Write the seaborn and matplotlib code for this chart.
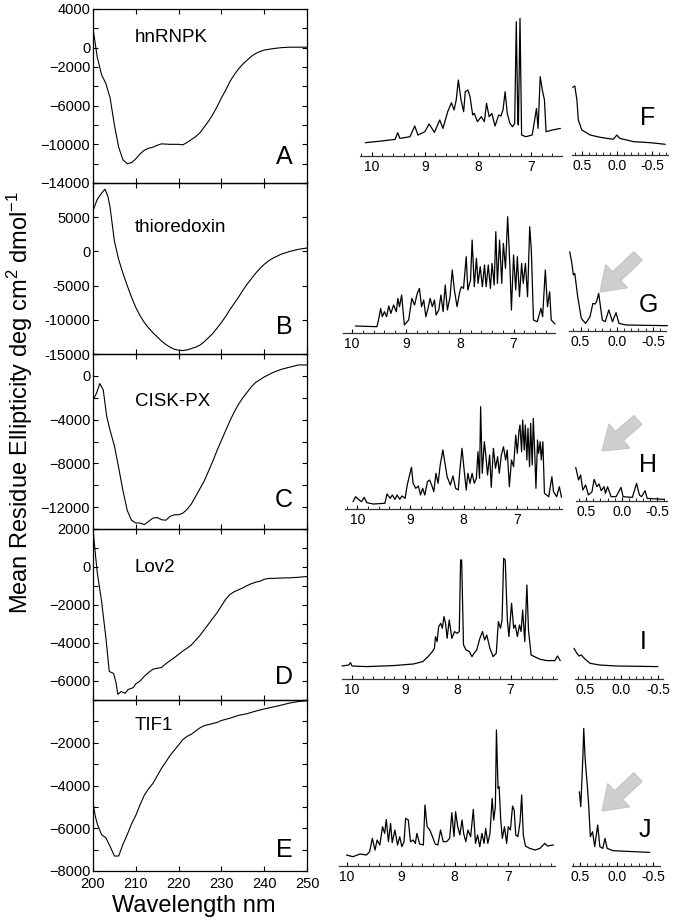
import numpy as np
import matplotlib
matplotlib.use("Agg")
import matplotlib.pyplot as plt
import seaborn as sns
from matplotlib.patches import FancyArrow
from matplotlib.ticker import MultipleLocator
from matplotlib.transforms import IdentityTransform

sns.set_style("ticks")
plt.rcParams['font.family'] = ['Liberation Sans', 'DejaVu Sans']
plt.rcParams['mathtext.default'] = 'regular'
plt.rcParams['text.color'] = 'k'
plt.rcParams['axes.labelcolor'] = 'k'
plt.rcParams['xtick.color'] = 'k'
plt.rcParams['ytick.color'] = 'k'

W, H = 682, 923

# ---------------- CD spectra (wavelength nm, mean residue ellipticity) ----------------
cd_hnrnpk = [(200, 2000), (201, -1000), (202, -2800), (203, -3700), (204, -5200), (205, -8000),
             (206, -10300), (207, -11600), (208, -12000), (209, -11900), (210, -11500), (211, -11000),
             (212, -10600), (213, -10400), (214, -10300), (215, -10100), (216, -9950), (218, -10000),
             (220, -10000), (221, -10050), (222, -9800), (223, -9500), (224, -9200), (225, -8800),
             (226, -8200), (227, -7600), (228, -6900), (229, -6100), (230, -5200), (231, -4400),
             (232, -3500), (233, -2800), (234, -2200), (235, -1700), (236, -1300), (237, -900),
             (238, -600), (239, -400), (240, -250), (242, -100), (244, 0), (246, 50), (248, 50), (250, 50)]

cd_thioredoxin = [(200, 6000), (201, 7600), (202, 8500), (202.8, 9100), (203.5, 8000), (204, 6400),
                  (205, 1500), (206, -1200), (207, -3200), (208, -5000), (209, -6700), (210, -8200),
                  (211, -9400), (212, -10400), (213, -11200), (214, -11900), (215, -12500), (216, -13100),
                  (217, -13600), (218, -14000), (219, -14300), (220, -14450), (221, -14500), (222, -14400),
                  (223, -14200), (224, -14000), (225, -13700), (226, -13200), (227, -12600), (228, -12000),
                  (229, -11200), (230, -10400), (231, -9500), (232, -8500), (233, -7600), (234, -6700),
                  (235, -5700), (236, -4800), (237, -4000), (238, -3200), (239, -2500), (240, -1900),
                  (241, -1400), (242, -1000), (244, -400), (246, 0), (248, 300), (250, 500)]

cd_cisk = [(200, -2200), (200.8, -1600), (201.6, -700), (202.4, -1300), (203.2, -3700), (204, -5000),
           (205, -6400), (206, -8400), (207, -10500), (208, -12300), (209, -13200), (210, -13450),
           (211, -13450), (212, -13600), (213, -13300), (214, -13000), (215, -12950), (216, -13150),
           (217, -13200), (218, -12850), (219, -12700), (220, -12700), (221, -12550), (222, -12200),
           (223, -11700), (224, -11000), (225, -10300), (226, -9600), (227, -8700), (228, -7800),
           (229, -6800), (230, -5900), (231, -5000), (232, -4100), (233, -3300), (234, -2600),
           (235, -2000), (236, -1500), (237, -1000), (238, -600), (240, -100), (242, 300),
           (244, 600), (246, 800), (248, 1000), (250, 1000)]

cd_lov2 = [(200, 2000), (200.5, 800), (201, -300), (202, -1800), (203, -3700), (203.8, -5500),
           (204.8, -5600), (205.4, -6100), (205.8, -6700), (206.6, -6550), (207.5, -6650), (208.2, -6450),
           (209.4, -6350), (210, -6150), (211, -6000), (212, -5750), (213, -5550), (214, -5380),
           (215, -5330), (216, -5290), (217, -5100), (218, -4930), (219, -4770), (220, -4600),
           (221, -4420), (222, -4270), (223, -4100), (224, -3850), (225, -3600), (226, -3300),
           (227, -3000), (228, -2700), (229, -2400), (230, -2050), (231, -1700), (232, -1450),
           (233, -1300), (234, -1200), (235, -1100), (236, -980), (237, -880), (238, -800),
           (239, -750), (240, -650), (241, -600), (242, -600), (244, -580), (246, -570),
           (248, -540), (250, -500)]

cd_tif1 = [(200, -4800), (200.5, -5400), (201, -5800), (202, -6300), (203, -6450), (204, -6850),
           (205, -7300), (206, -7300), (207, -6750), (208, -6300), (209, -5800), (210, -5400),
           (211, -4900), (212, -4450), (213, -4150), (214, -3900), (215, -3550), (216, -3200),
           (217, -2900), (218, -2600), (219, -2350), (220, -2100), (221, -1850), (222, -1700),
           (223, -1600), (224, -1450), (225, -1300), (226, -1200), (227, -1150), (228, -1100),
           (229, -1050), (230, -960), (232, -850), (234, -720), (236, -640), (238, -520),
           (240, -420), (242, -330), (244, -240), (246, -140), (248, -70), (250, -30)]

cd_names = ["hnRNPK", "thioredoxin", "CISK-PX", "Lov2", "TIF1"]
cd_letters = ["A", "B", "C", "D", "E"]
cd_ylims = [(-14000, 4000), (-15000, 10000), (-14000, 2000), (-7000, 2000), (-8000, 0)]
cd_tick_step = [2000, 5000, 2000, 1000, 1000]
cd_labelled = [[4000, 0, -2000, -6000, -10000, -14000],
               [5000, 0, -5000, -10000, -15000],
               [0, -4000, -8000, -12000],
               [2000, 0, -2000, -4000, -6000],
               [-2000, -4000, -6000, -8000]]
cd_minus = ["\u2212", "-", "\u2212", "\u2212", "\u2212"]
wl_ticks = [200, 210, 220, 230, 240, 250]

# ---------------- 1H NMR spectra (ppm, intensity a.u.) ----------------
f_main = [(10.12, 13), (9.85, 14.5), (9.56, 16.3), (9.51, 23), (9.47, 17.3), (9.28, 19), (9.19, 29.7),
          (9.13, 20.7), (9.00, 24), (8.92, 31.7), (8.82, 23.3), (8.72, 35.7), (8.66, 27.3), (8.57, 44),
          (8.50, 53), (8.45, 45.7), (8.41, 55.7), (8.37, 75.7), (8.32, 55.7), (8.27, 44), (8.24, 64),
          (8.19, 65.7), (8.15, 59), (8.10, 40.7), (8.07, 42.3), (8.01, 34), (7.94, 39), (7.88, 34),
          (7.84, 52.3), (7.79, 39), (7.74, 42.3), (7.68, 29.7), (7.61, 40.7), (7.57, 39.7), (7.53, 45.7),
          (7.49, 64), (7.45, 42.3), (7.40, 32.3), (7.35, 29), (7.31, 32.3), (7.28, 134), (7.25, 32.3),
          (7.24, 30.7), (7.21, 137.3), (7.18, 20.7), (7.10, 19), (6.98, 20.7), (6.90, 47.3), (6.87, 27.3),
          (6.83, 79), (6.79, 65.7), (6.75, 55.7), (6.72, 24), (6.60, 25.7), (6.45, 27.3)]
f_up = [(0.63, 67.7), (0.60, 69), (0.57, 55), (0.55, 35), (0.50, 25), (0.38, 20), (0.24, 17.7),
        (0.05, 15.7), (0.00, 20), (-0.04, 16.7), (-0.24, 13.3), (-0.48, 12.3), (-0.69, 10.7)]

g_main = [(9.94, 6.7), (9.54, 6), (9.51, 12.7), (9.47, 24.3), (9.44, 16), (9.40, 21), (9.36, 16),
          (9.32, 26.7), (9.28, 19.3), (9.23, 27.7), (9.18, 21), (9.15, 34.3), (9.12, 26), (9.08, 37.7),
          (9.03, 7.7), (8.95, 12.7), (8.89, 34.3), (8.84, 27.7), (8.79, 39.3), (8.75, 44.3), (8.71, 26),
          (8.67, 32.7), (8.63, 16), (8.59, 24.3), (8.55, 34.3), (8.51, 26), (8.47, 32.7), (8.44, 17.7),
          (8.39, 22.7), (8.35, 37.7), (8.31, 21), (8.27, 47.7), (8.23, 22.7), (8.18, 36), (8.14, 62.7),
          (8.10, 42.7), (8.05, 26), (8.00, 41), (7.97, 46), (7.93, 44.3), (7.88, 76), (7.85, 42.7),
          (7.80, 52.7), (7.77, 92.7), (7.73, 46), (7.69, 74.3), (7.66, 49.3), (7.62, 66), (7.58, 46),
          (7.54, 67.7), (7.51, 46), (7.47, 67.7), (7.43, 44.3), (7.40, 69.3), (7.36, 47.7), (7.33, 101),
          (7.30, 49.3), (7.26, 92.7), (7.22, 49.3), (7.19, 89.3), (7.15, 64.3), (7.11, 116), (7.07, 69.3),
          (7.04, 22.7), (7.00, 77.7), (6.96, 42.7), (6.93, 76), (6.89, 36), (6.85, 69.3), (6.82, 49.3),
          (6.78, 69.3), (6.74, 36), (6.70, 106), (6.67, 82.7), (6.63, 12.7), (6.56, 11), (6.49, 24.3),
          (6.46, 16), (6.41, 62.7), (6.37, 26), (6.33, 41), (6.30, 12.7), (6.23, 8.7)]
g_up = [(0.65, 79), (0.62, 67.3), (0.60, 55.7), (0.58, 57.3), (0.54, 34), (0.49, 12.3), (0.43, 7.3),
        (0.37, 14), (0.33, 27.3), (0.30, 26.7), (0.28, 29), (0.25, 37.3), (0.20, 10.7), (0.16, 9),
        (0.11, 20.7), (0.06, 9), (0.01, 18), (-0.03, 7.3), (-0.13, 5.7), (-0.70, 5)]

h_main = [(10.08, 7.3), (10.03, 12.3), (9.98, 9.7), (9.92, 7.3), (9.87, 11.7), (9.82, 6.3), (9.70, 5),
          (9.48, 5.7), (9.44, 15), (9.38, 10.7), (9.34, 14), (9.29, 9.7), (9.25, 14), (9.20, 9.7),
          (9.16, 13), (9.10, 10.7), (9.06, 24), (9.02, 33), (8.98, 41.7), (8.95, 25.7), (8.90, 20.7),
          (8.85, 23), (8.81, 14), (8.77, 20.7), (8.73, 14), (8.68, 27.3), (8.64, 29), (8.60, 24),
          (8.56, 17.3), (8.52, 35.7), (8.48, 25.7), (8.44, 44), (8.39, 59), (8.35, 45.7), (8.31, 32.3),
          (8.25, 24), (8.20, 33), (8.15, 20.7), (8.10, 19), (8.07, 39), (8.03, 60.7), (7.99, 39),
          (7.95, 19), (7.92, 35.7), (7.88, 25.7), (7.84, 35.7), (7.80, 25.7), (7.76, 30.7), (7.73, 57.3),
          (7.70, 30.7), (7.68, 102.3), (7.65, 35.7), (7.61, 67.3), (7.58, 52.3), (7.55, 34), (7.51, 54),
          (7.48, 21.7), (7.44, 60.7), (7.40, 40.7), (7.36, 52.3), (7.33, 35.7), (7.29, 54), (7.25, 62.3),
          (7.21, 49), (7.18, 59), (7.14, 22.3), (7.10, 49), (7.06, 42.3), (7.02, 74), (6.99, 55.7),
          (6.96, 77.3), (6.94, 84), (6.91, 57.3), (6.89, 89), (6.86, 59), (6.84, 84), (6.81, 49),
          (6.79, 80.7), (6.76, 42.3), (6.74, 85.7), (6.71, 44), (6.69, 90.7), (6.66, 52.3), (6.64, 20.7),
          (6.61, 69), (6.59, 55.7), (6.56, 67.3), (6.54, 49), (6.51, 67.3), (6.48, 15.7), (6.40, 12.3),
          (6.34, 32.3), (6.31, 17.3), (6.25, 12.3), (6.20, 22.3), (6.16, 11.7)]
h_up = [(0.65, 33.3), (0.61, 20.7), (0.58, 25.7), (0.55, 10.7), (0.51, 15.7), (0.47, 5.7), (0.42, 9),
        (0.39, 21.3), (0.35, 14), (0.32, 16.7), (0.29, 10), (0.25, 14), (0.23, 7.3), (0.20, 14),
        (0.15, 4), (0.08, 4), (0.01, 13.3), (-0.02, 4), (-0.15, 3.3), (-0.21, 17.3), (-0.25, 5.7),
        (-0.28, 4), (-0.33, 10), (-0.36, 2.3), (-0.60, 1.3)]

i_main = [(10.19, 13.3), (10.06, 14.3), (10.03, 16.7), (10.00, 13.3), (9.72, 12.7), (9.22, 13.7),
          (8.84, 15.3), (8.66, 17.7), (8.56, 22.7), (8.48, 27.7), (8.44, 31), (8.42, 42.7), (8.39, 37.7),
          (8.36, 52.7), (8.32, 56), (8.29, 51), (8.26, 62.7), (8.23, 56), (8.20, 41), (8.16, 59.3),
          (8.11, 41), (8.06, 47.7), (8.01, 46), (7.97, 47.7), (7.945, 119.3), (7.925, 119.3), (7.89, 34.3),
          (7.84, 29.3), (7.78, 27.7), (7.73, 22.7), (7.69, 26), (7.64, 29.3), (7.58, 41), (7.53, 47.7),
          (7.49, 39.3), (7.45, 44.3), (7.39, 31), (7.33, 22.7), (7.27, 26), (7.23, 57.7), (7.19, 51),
          (7.16, 59.3), (7.13, 121), (7.10, 119.3), (7.06, 59.3), (7.03, 42.7), (6.98, 76), (6.94, 51),
          (6.91, 54.3), (6.87, 42.7), (6.83, 54.3), (6.80, 47.7), (6.77, 69.3), (6.73, 37.7), (6.69, 94.3),
          (6.66, 49.3), (6.61, 24.3), (6.52, 22), (6.44, 20), (6.31, 18.7), (6.16, 18.7), (6.11, 23.3),
          (6.06, 18.7)]
i_up = [(0.65, 31), (0.61, 26), (0.58, 23.3), (0.55, 24.3), (0.51, 21), (0.43, 16), (0.30, 14.3),
        (0.07, 13.3), (-0.50, 12.7)]

j_main = [(10.01, 10.7), (9.89, 9), (9.76, 11.7), (9.64, 10.7), (9.58, 14), (9.53, 27.3), (9.48, 15.7),
          (9.44, 25.7), (9.39, 20.7), (9.34, 39), (9.30, 32.3), (9.27, 46.3), (9.23, 24), (9.19, 42.3),
          (9.16, 23), (9.11, 35.7), (9.06, 20.7), (9.02, 29), (8.98, 19), (8.94, 24), (8.91, 47.3),
          (8.86, 45.7), (8.82, 24), (8.77, 25.7), (8.73, 22.3), (8.70, 32.3), (8.65, 21.7), (8.58, 20.7),
          (8.55, 60.7), (8.51, 39), (8.46, 35.7), (8.41, 29), (8.36, 21.7), (8.31, 20.7), (8.26, 35.7),
          (8.21, 24), (8.15, 24), (8.09, 27.3), (8.05, 53), (8.01, 29), (7.98, 54), (7.94, 39),
          (7.90, 30.7), (7.86, 45.7), (7.83, 32.3), (7.79, 24), (7.75, 35.7), (7.70, 29), (7.65, 56.3),
          (7.61, 22.3), (7.57, 30.7), (7.53, 19), (7.49, 32.3), (7.45, 22.3), (7.42, 37.3), (7.38, 22.3),
          (7.34, 32.3), (7.30, 67.3), (7.27, 45.7), (7.24, 59), (7.22, 135.7), (7.19, 77.3), (7.17, 79),
          (7.14, 45.7), (7.11, 27.3), (7.07, 39), (7.03, 22.3), (7.00, 39), (6.96, 35.7), (6.92, 59.7),
          (6.89, 55.7), (6.86, 30.7), (6.82, 29), (6.78, 44), (6.75, 70.7), (6.72, 30.7), (6.68, 19.7),
          (6.60, 17.3), (6.50, 15.7), (6.41, 17.3), (6.32, 22.3), (6.27, 19.7), (6.16, 20.7)]
j_up = [(0.51, 74), (0.49, 59), (0.46, 112.3), (0.45, 137.3), (0.43, 105.7), (0.40, 79), (0.38, 57.3),
        (0.36, 29), (0.33, 34), (0.30, 19), (0.26, 40.7), (0.23, 19), (0.19, 17.3), (0.16, 27.3),
        (0.13, 17.3), (0.05, 15), (-0.45, 13.3)]

nmr_letters = ["F", "G", "H", "I", "J"]
main_ticks = [10, 9, 8, 7]
up_ticks = [0.5, 0.0, -0.5]
up_ticklabels = ["0.5", "0.0", "-0.5"]

# ---------------- layout (pixels) ----------------
cd_bounds = [(9, 183), (183, 354), (354, 529), (529, 700), (700, 871)]
cd_name_y = [38, 227, 402, 568, 726]
cd_letter_y = [157, 327, 500, 677, 850]
# (x0, x1, axis line y, xlim) for main and upfield segment
nmr_main = [(360, 562, 155.7, (10.22, 6.42)), (343, 555, 332.7, (10.17, 6.23)),
            (345, 562, 509, (10.23, 6.15)), (342, 557, 679.3, (10.19, 6.12)),
            (339, 555, 865.7, (10.15, 6.13))]
nmr_up = [(572, 668, 155, (0.64, -0.73)), (569, 666, 330.7, (0.66, -0.68)),
          (576, 667, 500.7, (0.646, -0.64)), (575, 663, 679.3, (0.636, -0.57)),
          (572, 660, 865.7, (0.61, -0.59))]
nmr_letter_xy = [(648, 118), (648, 305), (648, 465), (643, 642), (645, 830)]
arrow_xy = [((638, 256), (600, 292)), ((638, 420), (602, 451)), ((638, 777), (602, 811))]

fig = plt.figure(figsize=(W / 100, H / 100), dpi=100)


def px_axes(x0, y0, x1, y1):
    return fig.add_axes([x0 / W, 1 - y1 / H, (x1 - x0) / W, (y1 - y0) / H])


cd_data = [cd_hnrnpk, cd_thioredoxin, cd_cisk, cd_lov2, cd_tif1]
for i, curve in enumerate(cd_data):
    top, bot = cd_bounds[i]
    ax = px_axes(93, top, 307, bot)
    ax.patch.set_visible(False)
    wl, val = np.array(curve).T
    sns.lineplot(x=wl, y=val, ax=ax, color='k', lw=0.8, sort=False, estimator=None)
    lo, hi = cd_ylims[i]
    ax.set_xlim(200, 250)
    ax.set_ylim(lo, hi)
    ticks = np.arange(lo, hi + 1, cd_tick_step[i])
    ax.set_yticks(ticks)
    ax.set_yticklabels([(f"{t:d}".replace("-", cd_minus[i]) if t in cd_labelled[i] else "")
                        for t in ticks.astype(int)])
    ax.set_xticks(wl_ticks)
    if i < 4:
        ax.set_xticklabels([])
    ax.tick_params(direction='in', top=True, right=True, length=3.5, width=0.8,
                   labelsize=10.5, pad=2, colors='k')
    ax.tick_params(axis='x', pad=4)
    ax.set_xlabel("")
    ax.set_ylabel("")
    for s in ax.spines.values():
        s.set_linewidth(0.9)
        s.set_color('k')
    fig.text(135 / W, 1 - cd_name_y[i] / H, cd_names[i], ha='left', va='center', fontsize=13.5)
    fig.text(284 / W, 1 - cd_letter_y[i] / H, cd_letters[i], ha='center', va='center', fontsize=18)

fig.text(20 / W, 1 - 403 / H, "Mean Residue Ellipticity deg cm$^2$ dmol$^{-1}$",
         rotation=90, ha='center', va='center', fontsize=17)
fig.text(194 / W, 1 - 906 / H, "Wavelength nm", ha='center', va='center', fontsize=17)

nmr_data = [(f_main, f_up), (g_main, g_up), (h_main, h_up), (i_main, i_up), (j_main, j_up)]
for r, (main, up) in enumerate(nmr_data):
    for seg, spec, ticks, labels, minor in [(nmr_main[r], main, main_ticks, [str(t) for t in main_ticks], 0.2),
                                            (nmr_up[r], up, up_ticks, up_ticklabels, 0.1)]:
        x0, x1, ly, xl = seg
        ax = px_axes(x0, ly - 150, x1, ly)
        ax.patch.set_visible(False)
        ppm, inten = np.array(spec).T
        sns.lineplot(x=ppm, y=inten, ax=ax, color='k', lw=0.9, sort=False, estimator=None)
        for ln in ax.lines:
            ln.set_clip_on(False)
        ax.set_xlim(*xl)
        ax.set_ylim(0, 150)
        ax.set_yticks([])
        ax.set_xticks(ticks)
        ax.set_xticklabels(labels)
        ax.xaxis.set_minor_locator(MultipleLocator(minor))
        ax.tick_params(axis='x', which='major', direction='in', length=3, width=0.8,
                       labelsize=10, pad=3, colors='k')
        ax.tick_params(axis='x', which='minor', direction='in', length=2, width=0.6, colors='k')
        for side in ['left', 'right', 'top']:
            ax.spines[side].set_visible(False)
        ax.spines['bottom'].set_linewidth(0.9)
        ax.spines['bottom'].set_color('#333333')
        ax.set_xlabel("")
        ax.set_ylabel("")
    lx, lyy = nmr_letter_xy[r]
    fig.text(lx / W, 1 - lyy / H, nmr_letters[r], ha='center', va='center', fontsize=18)

for (tail, tip) in arrow_xy:
    tx, ty = tail[0], H - tail[1]
    dx, dy = tip[0] - tail[0], -(tip[1] - tail[1])
    fig.add_artist(FancyArrow(tx, ty, dx, dy, width=12, head_width=32, head_length=23,
                              length_includes_head=True, transform=IdentityTransform(),
                              fc='#cfcfcf', ec='#c4c4c4', lw=0.8))

fig.savefig("out.png", dpi=100)
